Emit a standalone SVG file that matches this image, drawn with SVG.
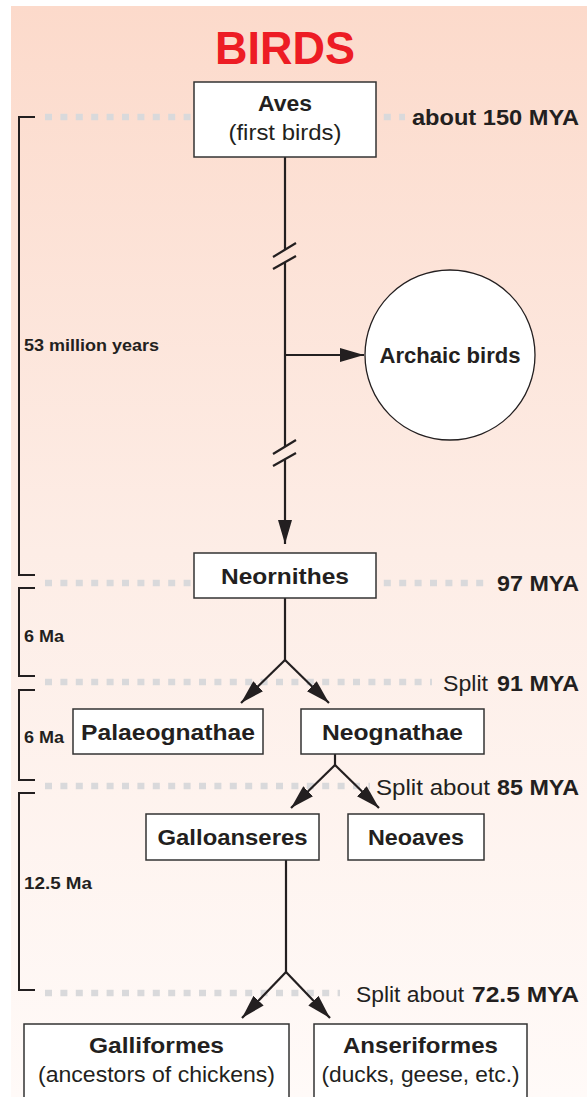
<svg xmlns="http://www.w3.org/2000/svg" width="587" height="1097" viewBox="0 0 587 1097">
<defs>
<linearGradient id="bg" x1="0" y1="0" x2="0" y2="1">
<stop offset="0" stop-color="#fcdacb"/>
<stop offset="0.5" stop-color="#fdede6"/>
<stop offset="1" stop-color="#fffaf8"/>
</linearGradient>
<marker id="ah" markerUnits="userSpaceOnUse" markerWidth="26" markerHeight="16" refX="24" refY="7" orient="auto">
<path d="M0,0 L24,7 L0,14 Z" fill="#231f20"/>
</marker>
<style>
.ln{stroke:#231f20;stroke-width:2.2;fill:none}
.br{stroke:#231f20;stroke-width:2;fill:none}
.dot{stroke:#d9d9db;stroke-width:6.5;stroke-dasharray:7 8.4;fill:none}
.box{fill:#fff;stroke:#333;stroke-width:1.5}
.b{font-family:"Liberation Sans",Arial,sans-serif;font-weight:bold;fill:#231f20}
.r{font-family:"Liberation Sans",Arial,sans-serif;fill:#231f20}
.lbl{font-size:22.5px}
.sm{font-size:16px}
</style>
</defs>
<rect x="11" y="6" width="576" height="1091" fill="url(#bg)"/>
<text x="285" y="64" text-anchor="middle" font-family="Liberation Sans,Arial,sans-serif" font-weight="bold" font-size="47" fill="#ed1c24" textLength="140" lengthAdjust="spacingAndGlyphs">BIRDS</text>

<g id="timeline">
<path class="dot" d="M45,117 H405"/>
<path class="dot" d="M45,583 H490"/>
<path class="dot" d="M45,682 H432"/>
<path class="dot" d="M45,786 H370"/>
<path class="dot" d="M45,993 H340"/>
<path class="br" d="M35,117 H19 V575 H35"/>
<path class="br" d="M35,588 H19 V676 H35"/>
<path class="br" d="M35,690 H19 V780 H35"/>
<path class="br" d="M35,793 H19 V990 H35"/>
<text class="b sm" x="24" y="351" textLength="135" lengthAdjust="spacingAndGlyphs">53 million years</text>
<text class="b sm" x="24" y="642" textLength="40" lengthAdjust="spacingAndGlyphs">6 Ma</text>
<text class="b sm" x="24" y="743" textLength="40" lengthAdjust="spacingAndGlyphs">6 Ma</text>
<text class="b sm" x="24" y="889" textLength="68" lengthAdjust="spacingAndGlyphs">12.5 Ma</text>
<text class="b lbl" x="412" y="125" textLength="167" lengthAdjust="spacingAndGlyphs">about 150 MYA</text>
<text class="b lbl" x="579" y="591" text-anchor="end" textLength="82" lengthAdjust="spacingAndGlyphs">97 MYA</text>
<text class="r lbl" x="443" y="691" textLength="45" lengthAdjust="spacingAndGlyphs">Split</text>
<text class="b lbl" x="579" y="691" text-anchor="end" textLength="82" lengthAdjust="spacingAndGlyphs">91 MYA</text>
<text class="r lbl" x="376" y="795" textLength="114" lengthAdjust="spacingAndGlyphs">Split about</text>
<text class="b lbl" x="579" y="795" text-anchor="end" textLength="82" lengthAdjust="spacingAndGlyphs">85 MYA</text>
<text class="r lbl" x="356" y="1002" textLength="108" lengthAdjust="spacingAndGlyphs">Split about</text>
<text class="b lbl" x="579" y="1002" text-anchor="end" textLength="107" lengthAdjust="spacingAndGlyphs">72.5 MYA</text>
</g>

<g id="connectors">
<path class="ln" d="M285,157 V250"/>
<path class="ln" d="M273,257 L296,243 M273,269 L296,256"/>
<path class="ln" d="M285,263 V447"/>
<path class="ln" d="M273,454 L296,440 M273,466 L296,453"/>
<path class="ln" d="M285,460 V544" marker-end="url(#ah)"/>
<path class="ln" d="M286,355 H364" marker-end="url(#ah)"/>
<path class="ln" d="M285,597 V660"/>
<path class="ln" d="M285,660 L241,703" marker-end="url(#ah)"/>
<path class="ln" d="M285,660 L329,703" marker-end="url(#ah)"/>
<path class="ln" d="M335,754 V765"/>
<path class="ln" d="M335,765 L291,808" marker-end="url(#ah)"/>
<path class="ln" d="M335,765 L379,808" marker-end="url(#ah)"/>
<path class="ln" d="M286,860 V972"/>
<path class="ln" d="M286,972 L242,1018" marker-end="url(#ah)"/>
<path class="ln" d="M286,972 L330,1018" marker-end="url(#ah)"/>
</g>

<g id="aves">
<rect class="box" x="194" y="82" width="182" height="75"/>
<text class="b lbl" x="285" y="111" text-anchor="middle" textLength="54" lengthAdjust="spacingAndGlyphs">Aves</text>
<text class="r lbl" x="285" y="140" text-anchor="middle" textLength="113" lengthAdjust="spacingAndGlyphs">(first birds)</text>
</g>
<g id="archaic">
<circle cx="450" cy="355" r="85" fill="#fff" stroke="#231f20" stroke-width="1.3"/>
<text class="b lbl" x="450" y="363" text-anchor="middle" textLength="141" lengthAdjust="spacingAndGlyphs">Archaic birds</text>
</g>
<g id="neornithes">
<rect class="box" x="194" y="553" width="182" height="45"/>
<text class="b lbl" x="285" y="584" text-anchor="middle" textLength="128" lengthAdjust="spacingAndGlyphs">Neornithes</text>
</g>
<g id="palaeognathae">
<rect class="box" x="73" y="709" width="190" height="45"/>
<text class="b lbl" x="168" y="740" text-anchor="middle" textLength="174" lengthAdjust="spacingAndGlyphs">Palaeognathae</text>
</g>
<g id="neognathae">
<rect class="box" x="301" y="709" width="183" height="45"/>
<text class="b lbl" x="392.5" y="740" text-anchor="middle" textLength="141" lengthAdjust="spacingAndGlyphs">Neognathae</text>
</g>
<g id="galloanseres">
<rect class="box" x="146" y="814" width="173" height="46"/>
<text class="b lbl" x="232.5" y="845" text-anchor="middle" textLength="150" lengthAdjust="spacingAndGlyphs">Galloanseres</text>
</g>
<g id="neoaves">
<rect class="box" x="348" y="814" width="136" height="46"/>
<text class="b lbl" x="416" y="845" text-anchor="middle" textLength="96" lengthAdjust="spacingAndGlyphs">Neoaves</text>
</g>
<g id="galliformes">
<rect class="box" x="24" y="1024" width="265" height="80"/>
<text class="b lbl" x="156.5" y="1053" text-anchor="middle" textLength="135" lengthAdjust="spacingAndGlyphs">Galliformes</text>
<text class="r lbl" x="156.5" y="1082" text-anchor="middle" textLength="237" lengthAdjust="spacingAndGlyphs">(ancestors of chickens)</text>
</g>
<g id="anseriformes">
<rect class="box" x="314" y="1024" width="213" height="80"/>
<text class="b lbl" x="420.5" y="1053" text-anchor="middle" textLength="155" lengthAdjust="spacingAndGlyphs">Anseriformes</text>
<text class="r lbl" x="420.5" y="1082" text-anchor="middle" textLength="198" lengthAdjust="spacingAndGlyphs">(ducks, geese, etc.)</text>
</g>
</svg>
